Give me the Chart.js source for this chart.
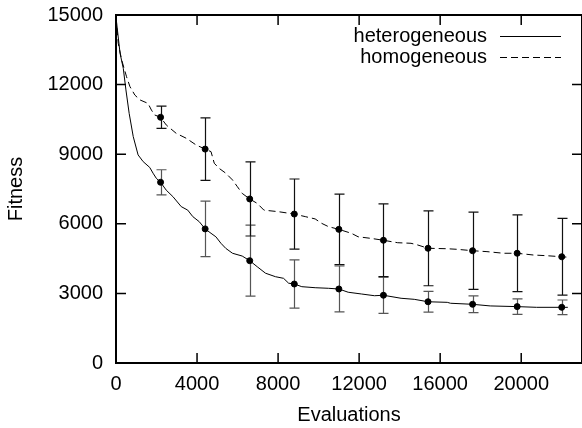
<!DOCTYPE html>
<html>
<head>
<meta charset="utf-8">
<script src="https://cdn.jsdelivr.net/npm/chart.js@4/dist/chart.umd.min.js"></script>
<style>
  html, body { margin: 0; padding: 0; background: #fff; }
  #wrap { width: 582px; height: 428px; overflow: hidden; }
</style>
</head>
<body>
<div id="wrap"><canvas id="fitness-chart" width="582" height="428"></canvas></div>
<script>
// tick labels
const xTicks = [0, 4000, 8000, 12000, 16000, 20000];
const yTicks = [0, 3000, 6000, 9000, 12000, 15000];

// averaged curves (evaluations, fitness)
const heteroX = [0, 200, 360, 490, 650, 850, 1090, 1340, 1665, 1830, 1990, 2200, 2480, 2810, 3220, 3540, 3790, 4110, 4400, 4690, 4930, 5180, 5420, 5750, 6230, 6600, 6970, 7380, 7870, 8270, 8520, 8800, 9170, 9830, 10480, 11000, 11460, 12110, 12760, 13200, 14070, 14720, 15400, 16350, 16510, 17600, 18470, 19800, 20760, 22000, 22300];
const heteroY = [14900, 13350, 12700, 11770, 10760, 9760, 8970, 8680, 8430, 8180, 7960, 7790, 7450, 7170, 6740, 6590, 6310, 6090, 5780, 5590, 5440, 5160, 4940, 4730, 4610, 4410, 4150, 3870, 3720, 3650, 3440, 3405, 3290, 3245, 3220, 3190, 3050, 2975, 2900, 2920, 2790, 2745, 2640, 2615, 2575, 2530, 2460, 2430, 2400, 2400, 2400];

const homoX = [0, 110, 280, 520, 690, 930, 1180, 1580, 1750, 1910, 2200, 2480, 2970, 3460, 3950, 4400, 4690, 4850, 5090, 5420, 5750, 5990, 6230, 6600, 6970, 7300, 8030, 8800, 9340, 9830, 10150, 10480, 11000, 11620, 11950, 12600, 13200, 13900, 14560, 14880, 15400, 16350, 16840, 17600, 18310, 19130, 19800, 20600, 21250, 22000, 22300];
const homoY = [14900, 13780, 13060, 12340, 11910, 11550, 11340, 11190, 10900, 10690, 10590, 10260, 9900, 9690, 9400, 9220, 9110, 8610, 8390, 8180, 7890, 7600, 7310, 7070, 6880, 6590, 6520, 6420, 6310, 6210, 6020, 5880, 5760, 5590, 5440, 5370, 5290, 5185, 5160, 5090, 4945, 4925, 4900, 4840, 4800, 4730, 4730, 4655, 4625, 4580, 4560];

// sampled points with std deviation
const sampleX = [2200, 4400, 6600, 8800, 11000, 13200, 15400, 17600, 19800, 22000];
const heteroMean = [7790, 5780, 4410, 3405, 3190, 2920, 2640, 2530, 2430, 2400];
const heteroErr = [540, 1195, 1530, 1040, 990, 785, 445, 360, 330, 316];
const homoMean = [10590, 9220, 7070, 6420, 5760, 5290, 4945, 4840, 4730, 4580];
const homoErr = [480, 1350, 1595, 1510, 1520, 1566, 1615, 1665, 1653, 1652];

const seriesNames = ['heterogeneous', 'homogeneous'];

const FONT = "'Liberation Sans', Arial, Helvetica, sans-serif";

function pairs(xs, ys) {
  return xs.map(function(x, i) { return { x: x, y: ys[i] }; });
}

// no extra room for labels hanging over the plot edges
function noPad(s) {
  s.paddingTop = 0; s.paddingBottom = 0;
  s.paddingLeft = 0; s.paddingRight = 0;
}

// error bars, drawn under the lines and points
const errorBars = {
  id: 'errorBars',
  beforeDatasetsDraw: function(chart) {
    const ctx = chart.ctx;
    const xs = chart.scales.x, ys = chart.scales.y;
    const sets = [
      { mean: heteroMean, err: heteroErr, color: '#555' },
      { mean: homoMean, err: homoErr, color: '#111' }
    ];
    ctx.save();
    ctx.lineWidth = 1.2;
    sets.forEach(function(s) {
      ctx.strokeStyle = s.color;
      sampleX.forEach(function(x, i) {
        const px = Math.round(xs.getPixelForValue(x)) + 0.5;
        const top = ys.getPixelForValue(s.mean[i] + s.err[i]);
        const bot = ys.getPixelForValue(s.mean[i] - s.err[i]);
        ctx.beginPath();
        ctx.moveTo(px, top); ctx.lineTo(px, bot);
        ctx.moveTo(px - 5, top); ctx.lineTo(px + 5, top);
        ctx.moveTo(px - 5, bot); ctx.lineTo(px + 5, bot);
        ctx.stroke();
      });
    });
    ctx.restore();
  }
};

// gnuplot style frame with inward ticks on all sides, plus the key
const frame = {
  id: 'frame',
  afterDraw: function(chart) {
    const ctx = chart.ctx;
    const a = chart.chartArea;
    const xs = chart.scales.x, ys = chart.scales.y;
    const tl = 10;
    ctx.save();
    ctx.strokeStyle = '#000';
    ctx.lineWidth = 1.5;
    ctx.beginPath();
    xTicks.forEach(function(v) {
      const px = xs.getPixelForValue(v);
      ctx.moveTo(px, a.bottom); ctx.lineTo(px, a.bottom - tl);
      ctx.moveTo(px, a.top); ctx.lineTo(px, a.top + tl);
    });
    yTicks.forEach(function(v) {
      const py = ys.getPixelForValue(v);
      ctx.moveTo(a.left, py); ctx.lineTo(a.left + tl, py);
      ctx.moveTo(a.right, py); ctx.lineTo(a.right - tl, py);
    });
    ctx.stroke();
    ctx.lineWidth = 2;
    ctx.strokeRect(a.left, a.top, a.right - a.left, a.bottom - a.top);

    // key
    ctx.font = '20px ' + FONT;
    ctx.fillStyle = '#000';
    ctx.textAlign = 'right';
    ctx.textBaseline = 'middle';
    ctx.lineWidth = 1;
    const dashes = [[], [7, 4]];
    seriesNames.forEach(function(name, i) {
      const y = 36 + i * 21;
      ctx.fillText(name, 487, y);
      ctx.setLineDash(dashes[i]);
      ctx.beginPath();
      ctx.moveTo(500, y + 0.5); ctx.lineTo(561, y + 0.5);
      ctx.stroke();
    });
    ctx.restore();
  }
};

new Chart(document.getElementById('fitness-chart'), {
  type: 'scatter',
  data: {
    datasets: [
      {
        label: seriesNames[0],
        data: pairs(heteroX, heteroY),
        showLine: true,
        borderColor: '#000',
        borderWidth: 1,
        pointRadius: 0,
        tension: 0
      },
      {
        label: seriesNames[1],
        data: pairs(homoX, homoY),
        showLine: true,
        borderColor: '#000',
        borderWidth: 1,
        borderDash: [7, 4],
        pointRadius: 0,
        tension: 0
      },
      {
        label: 'hetero samples',
        data: pairs(sampleX, heteroMean),
        showLine: false,
        pointRadius: 3,
        pointBackgroundColor: '#000',
        pointBorderColor: '#000'
      },
      {
        label: 'homo samples',
        data: pairs(sampleX, homoMean),
        showLine: false,
        pointRadius: 3,
        pointBackgroundColor: '#000',
        pointBorderColor: '#000'
      }
    ]
  },
  options: {
    responsive: false,
    animation: false,
    // the plot frame runs a little past the right edge, as in the original
    layout: { autoPadding: false, padding: { top: 15, right: -4, left: 0, bottom: 0 } },
    plugins: {
      legend: { display: false },
      tooltip: { enabled: false }
    },
    scales: {
      x: {
        type: 'linear',
        min: 0,
        max: 23000,
        afterBuildTicks: function(s) { s.ticks = xTicks.map(function(v) { return { value: v }; }); },
        afterFit: function(s) { s.height = 65; noPad(s); },
        grid: { display: false, drawTicks: false },
        border: { display: false },
        ticks: {
          color: '#000',
          padding: 9,
          maxRotation: 0,
          font: { family: FONT, size: 20 },
          callback: function(v) { return String(v); }
        },
        title: {
          display: true,
          text: 'Evaluations',
          color: '#000',
          padding: { top: 0, bottom: 1 },
          font: { family: FONT, size: 20 }
        }
      },
      y: {
        type: 'linear',
        min: 0,
        max: 15000,
        afterBuildTicks: function(s) { s.ticks = yTicks.map(function(v) { return { value: v }; }); },
        afterFit: function(s) { s.width = 116; noPad(s); },
        grid: { display: false, drawTicks: false },
        border: { display: false },
        ticks: {
          color: '#000',
          padding: 13,
          font: { family: FONT, size: 20 },
          callback: function(v) { return String(v); }
        },
        title: {
          display: true,
          text: 'Fitness',
          color: '#000',
          padding: { top: 4, bottom: 0 },
          font: { family: FONT, size: 20 }
        }
      }
    }
  },
  plugins: [errorBars, frame]
});
</script>
</body>
</html>
